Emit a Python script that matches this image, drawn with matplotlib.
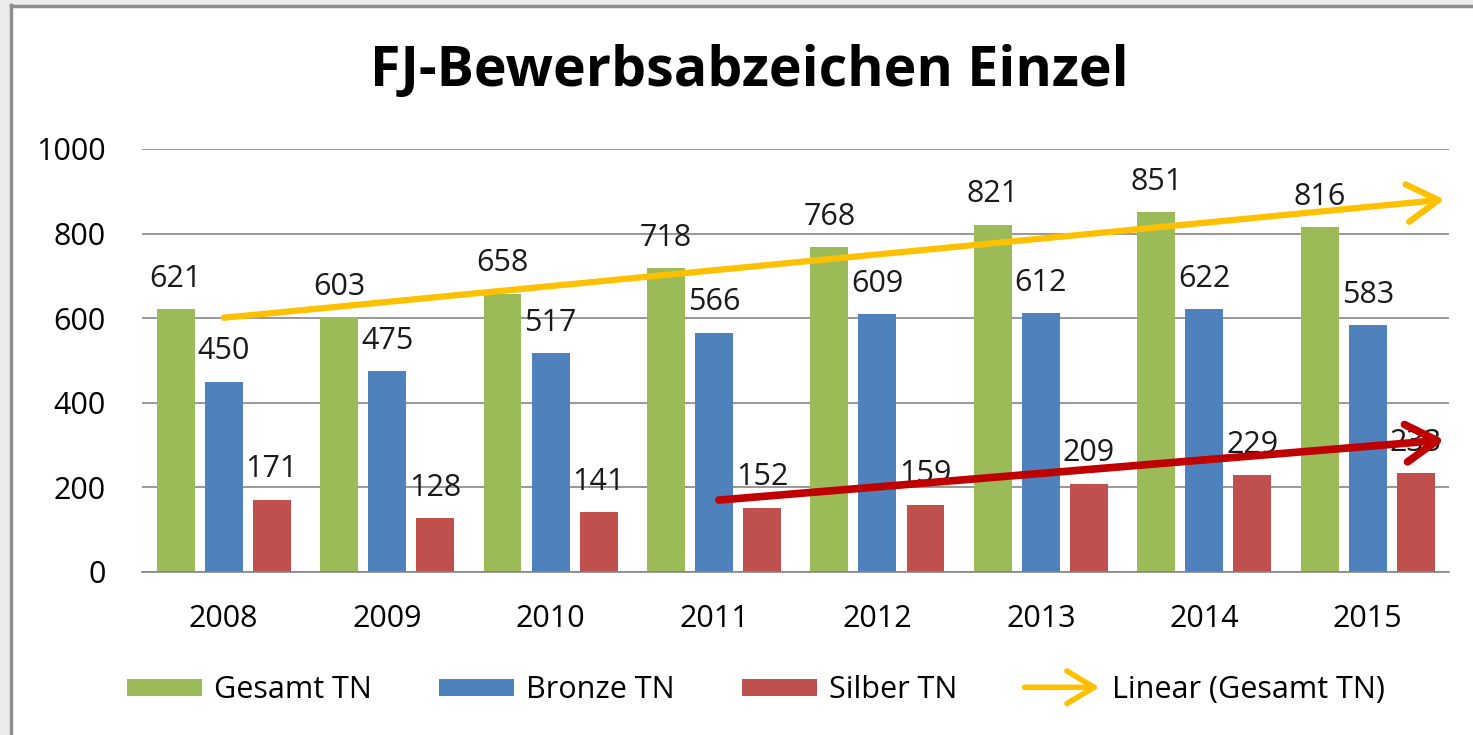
import matplotlib.pyplot as plt
from matplotlib.patches import FancyArrowPatch, Rectangle
from matplotlib.lines import Line2D
from matplotlib.legend_handler import HandlerBase
import numpy as np

# Daten
years = ["2008", "2009", "2010", "2011", "2012", "2013", "2014", "2015"]
gesamt = [621, 603, 658, 718, 768, 821, 851, 816]
bronze = [450, 475, 517, 566, 609, 612, 622, 583]
silber = [171, 128, 141, 152, 159, 209, 229, 233]
series_names = ["Gesamt TN", "Bronze TN", "Silber TN"]
title = "FJ-Bewerbsabzeichen Einzel"
y_ticks = [0, 200, 400, 600, 800, 1000]

# handgezeichneter Pfeil fuer Silber (Kategorie-Index, Wert)
silber_arrow_start = (3.03, 170)
silber_arrow_end = (7.47, 312)

plt.rcParams['font.family'] = ['Open Sans', 'DejaVu Sans']

colors = ["#9BBB59", "#4F81BD", "#C0504D"]
trend_color = "#FFC000"
arrow_red = "#C00000"
arrow_style = "->,head_length=0.75,head_width=0.45"

fig = plt.figure(figsize=(14.73, 7.35), dpi=100)
ax = fig.add_axes([0.0964, 0.2218, 0.8876, 0.5755])

x = np.arange(len(years))
offsets = [-0.294, 0.0, 0.294]
width = 0.232

for vals, off, col, name in zip([gesamt, bronze, silber], offsets, colors, series_names):
    ax.bar(x + off, vals, width, color=col, label=name, zorder=2)
    for xi, v in zip(x + off, vals):
        ax.annotate(str(v), (xi, v), xytext=(0, 11), textcoords="offset points",
                    ha="center", va="bottom", fontsize=22, color="#1a1a1a", zorder=4)

# Linearer Trend (Gesamt TN), 0.47 Perioden vorwaerts
k, d = np.polyfit(x, gesamt, 1)
x_end = x[-1] + 0.47
trend = FancyArrowPatch((x[0], k * x[0] + d), (x_end, k * x_end + d),
                        arrowstyle=arrow_style, mutation_scale=30, shrinkA=0, shrinkB=0,
                        color=trend_color, lw=4.5, zorder=3)
ax.add_patch(trend)

# roter Pfeil
red = FancyArrowPatch(silber_arrow_start, silber_arrow_end,
                      arrowstyle=arrow_style, mutation_scale=30, shrinkA=0, shrinkB=0,
                      color=arrow_red, lw=5.5, zorder=5)
ax.add_patch(red)

ax.set_xlim(-0.5, 7.5)
ax.set_ylim(0, 1000)
ax.set_yticks(y_ticks)
ax.set_xticks(x)
ax.set_xticklabels(years)
ax.tick_params(axis="y", length=0, pad=26, labelsize=22)
ax.tick_params(axis="x", length=0, pad=23, labelsize=22)
ax.grid(axis="y", color="#868686", lw=1.2, zorder=0)
for s in ["left", "right", "top"]:
    ax.spines[s].set_visible(False)
ax.spines["bottom"].set_color("#868686")
ax.spines["bottom"].set_linewidth(1.2)

fig.text(0.509, 0.903, title, ha="center", va="center", fontsize=40, fontweight="bold")


# Legende mit Pfeil
class HandlerArrow(HandlerBase):
    def create_artists(self, legend, orig_handle, xdescent, ydescent, width, height, fontsize, trans):
        a = FancyArrowPatch((-xdescent, height / 2 - ydescent), (width - xdescent, height / 2 - ydescent),
                            arrowstyle=arrow_style, mutation_scale=26, shrinkA=0, shrinkB=0,
                            color=trend_color, lw=4, transform=trans)
        return [a]


handles, labels = ax.get_legend_handles_labels()
handles.append(Line2D([], [], color=trend_color))
labels.append("Linear (Gesamt TN)")
fig.legend(handles, labels, loc="center", bbox_to_anchor=(0.513, 0.061), ncol=4, frameon=False,
           fontsize=22, handlelength=2.45, handleheight=0.5, handletextpad=0.4, columnspacing=2.2,
           handler_map={Line2D: HandlerArrow()})

# Rahmen oben/links
fig.patches.append(Rectangle((0, 0), 10 / 1473, 1, transform=fig.transFigure, color="#ebebeb", zorder=0))
fig.patches.append(Rectangle((0, 1 - 5 / 735), 1, 5 / 735, transform=fig.transFigure, color="#ebebeb", zorder=0))
fig.lines.append(Line2D([11 / 1473, 11 / 1473], [0, 1 - 5 / 735], transform=fig.transFigure, color="#8e8e8e", lw=2.5))
fig.lines.append(Line2D([11 / 1473, 1], [1 - 6 / 735, 1 - 6 / 735], transform=fig.transFigure, color="#8e8e8e", lw=2.5))

fig.savefig("out.png", dpi=100)
